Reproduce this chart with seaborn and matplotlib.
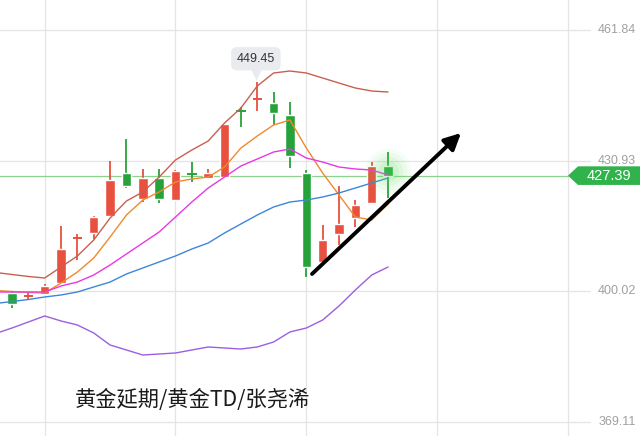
import numpy as np
import pandas as pd
import matplotlib
matplotlib.use("Agg")
import matplotlib.pyplot as plt
import matplotlib.transforms as mtransforms
from matplotlib.patches import Polygon
import seaborn as sns

# candle data, one per bar
opens  = [399.62, 398.97, 399.38, 402.00, 412.40, 413.82, 417.84, 428.01, 421.86, 426.83, 421.62, 428.01,
          426.83, 427.06, 442.91, 445.28, 444.57, 441.73, 428.01, 406.95, 413.58, 417.36, 420.91, 429.67]
highs  = [400.09, 399.68, 401.75, 415.47, 413.58, 417.84, 430.85, 436.05, 428.96, 428.96, 428.72, 430.61,
          428.96, 439.60, 443.62, 449.45, 447.17, 444.81, 428.72, 415.71, 424.93, 421.62, 430.61, 432.98]
lows   = [396.07, 398.26, 399.15, 402.00, 407.43, 412.40, 417.84, 424.46, 421.15, 420.91, 421.38, 425.88,
          426.83, 427.06, 438.89, 442.68, 439.37, 429.19, 403.41, 406.95, 410.98, 415.24, 420.68, 422.10]
closes = [397.02, 398.97, 401.28, 410.03, 412.87, 417.60, 426.35, 424.93, 426.83, 421.86, 428.48, 427.77,
          428.01, 439.60, 442.44, 445.75, 442.20, 432.03, 405.77, 412.16, 415.95, 420.44, 429.67, 427.39]
# colour of the crosses where open == close
cross_up = {1: True, 11: False, 14: False}

# indicator lines, starting one bar before the first candle (index -1)
upper_band = [404.47, 404.00, 403.53, 403.17, 405.77, 408.38, 412.16, 417.36, 421.39, 423.52, 427.06, 431.09,
              433.45, 435.58, 439.84, 443.39, 448.59, 451.67, 452.14, 451.67, 450.48, 449.30, 448.12, 447.41, 447.17]
ma5        = [400.21, 399.98, 399.74, 399.62, 401.99, 404.59, 407.90, 412.87, 418.07, 421.62, 423.52, 425.88,
              426.59, 427.06, 429.43, 433.92, 436.76, 439.37, 440.55, 433.92, 428.01, 422.81, 417.60, 416.89, 420.68]
ma10       = [399.86, 399.86, 399.86, 399.86, 401.28, 402.22, 403.88, 406.25, 408.85, 411.45, 414.05, 417.60,
              421.15, 424.46, 427.06, 429.67, 431.32, 432.98, 433.69, 431.56, 430.61, 429.43, 428.96, 428.72, 427.54]
mid_band   = [397.14, 397.61, 398.08, 398.68, 399.15, 399.86, 401.04, 402.22, 404.12, 405.54, 406.96, 408.38,
              410.03, 411.45, 413.82, 415.95, 418.07, 419.97, 421.15, 421.62, 422.33, 423.28, 424.46, 425.65, 426.83]
lower_band = [390.04, 391.34, 392.76, 394.18, 393.00, 392.05, 390.16, 387.32, 386.14, 384.95, 385.19, 385.43,
              386.14, 386.85, 386.61, 386.37, 386.85, 388.03, 390.40, 391.34, 393.23, 396.55, 400.33, 403.88, 405.77]

price_ticks = [461.84, 430.93, 400.02, 369.11]
last_price = 427.39
title_text = "黄金延期/黄金TD/张尧浠"
trend_start = (18.35, 404.12)
trend_end = (27.46, 437.47)

RED = "#e8503f"
GREEN = "#27a23b"

sns.set_style("white")
plt.rcParams['font.family'] = ['Liberation Sans', 'DejaVu Sans']

fig = plt.figure(figsize=(6.4, 4.36), dpi=100)
ax = fig.add_axes([0, 0, 1, 1])

# grid
for t in price_ticks:
    ax.axhline(t, xmin=0, xmax=590 / 640, color="#e4e4e4", lw=0.9, zorder=0)
    ax.text(0.994, t, f"{t:.2f}", transform=ax.get_yaxis_transform(), ha="right", va="center",
            fontsize=9, color="#a0a0a0")
for gx in [2, 10, 18, 26, 34]:
    ax.axvline(gx, color="#e4e4e4", lw=0.9, zorder=0)

# last price line
ax.axhline(last_price, xmin=0, xmax=568 / 640, color="#8fd08f", lw=0.9, zorder=1)

# candles
for i in range(len(opens)):
    o, h, l, c = opens[i], highs[i], lows[i], closes[i]
    up = cross_up.get(i, c >= o)
    col = RED if up else GREEN
    ax.vlines(i, l, h, color=col, lw=1.3, zorder=2)
    if abs(c - o) < 0.6:
        ax.hlines((o + c) / 2, i - 0.29, i + 0.29, color=col, lw=1.4, zorder=2)
    else:
        ax.bar(i, abs(c - o), bottom=min(o, c), width=0.58, color=col, zorder=2)

# indicator lines
lines = pd.DataFrame({"x": np.arange(-1, len(opens)), "upper": upper_band, "ma5": ma5, "ma10": ma10,
                      "mid": mid_band, "lower": lower_band})
colors = {"upper": "#c9604f", "ma5": "#f08a2c", "ma10": "#e838e6", "mid": "#3d86dc", "lower": "#9b5fe0"}
for k, col in colors.items():
    sns.lineplot(data=lines, x="x", y=k, ax=ax, color=col, lw=1.0, zorder=3)

# glow at last candle
last_i = len(opens) - 1
for s, a in [(1100, 0.05), (750, 0.07), (450, 0.09), (220, 0.13)]:
    ax.scatter(last_i, (opens[-1] + closes[-1]) / 2, s=s, color="#5fe05f", alpha=a, lw=0, zorder=4)

# trend arrow
ax.annotate("", xy=trend_end, xytext=trend_start,
            arrowprops=dict(arrowstyle="-|>,head_length=0.7,head_width=0.35", lw=2.8, color="black",
                            shrinkA=0, shrinkB=0, mutation_scale=14), zorder=5)

# max price tooltip
hi_i = int(np.argmax(highs))
ax.annotate(f"{highs[hi_i]:.2f}", xy=(hi_i, highs[hi_i]), xytext=(-1, 17), textcoords="offset points",
            ha="center", va="center", fontsize=9, color="#333333",
            bbox=dict(boxstyle="round,pad=0.45", fc="#e9ebee", ec="none"), zorder=6)
trans = mtransforms.offset_copy(ax.transData, fig=fig, x=-1, y=8, units="dots")
ax.plot(hi_i, highs[hi_i], marker="v", ms=8, color="#e9ebee", mec="none", transform=trans, zorder=6)

# last price tag
btrans = mtransforms.blended_transform_factory(ax.transAxes, ax.transData)
tag = Polygon([[568 / 640, last_price], [578 / 640, last_price + 2.2], [1.0, last_price + 2.2],
               [1.0, last_price - 2.2], [578 / 640, last_price - 2.2]],
              closed=True, transform=btrans, fc="#2fb34a", ec="none", zorder=6)
ax.add_patch(tag)
ax.text(609 / 640, last_price, f"{last_price:.2f}", transform=btrans, ha="center", va="center",
        fontsize=10.5, color="white", zorder=7)

ax.text(0.117, 0.083, title_text, transform=ax.transAxes, ha="left", va="center", fontsize=15.3,
        color="#1a1a1a", family=["Noto Sans CJK SC", "DejaVu Sans"], zorder=7)

ax.set_xlim(-0.734, 38.41)
ax.set_ylim(365.79, 468.94)
ax.axis("off")

fig.savefig("out.png", dpi=100)
